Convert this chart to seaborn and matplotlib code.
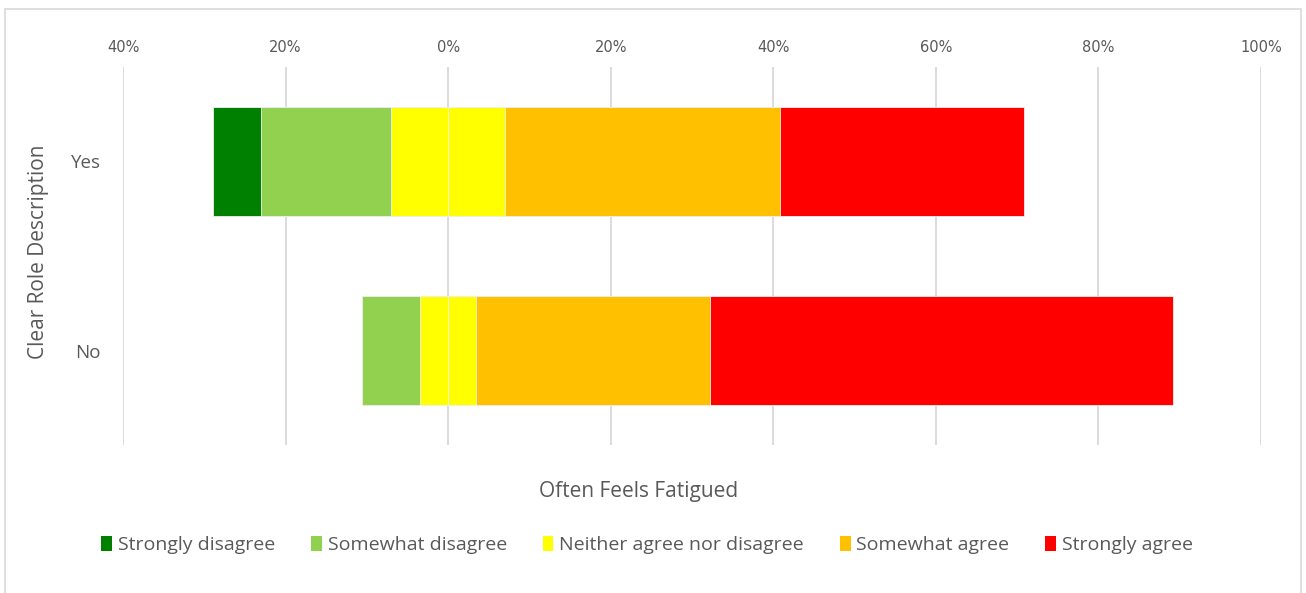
import matplotlib
matplotlib.use("Agg")
import matplotlib.pyplot as plt
from matplotlib.patches import Rectangle, Patch
import seaborn as sns
import pandas as pd

# Survey responses (% of respondents) by whether a clear role description exists
categories = ["Yes", "No"]
responses = ["Strongly disagree", "Somewhat disagree", "Neither agree nor disagree",
             "Somewhat agree", "Strongly agree"]
strongly_disagree = [5.9, 0.0]
somewhat_disagree = [16.0, 7.1]
neither = [14.1, 6.9]
somewhat_agree = [33.8, 28.8]
strongly_agree = [30.0, 56.9]

tick_values = [-40, -20, 0, 20, 40, 60, 80, 100]
tick_labels = ["40%", "20%", "0%", "20%", "40%", "60%", "80%", "100%"]
colors = ["#008000", "#92D050", "#FFFF00", "#FFC000", "#FF0000"]
text_color = "#595959"

sns.set_theme(style="white")
plt.rcParams["font.family"] = ["Open Sans", "DejaVu Sans"]

df = pd.DataFrame({
    "group": categories,
    "sd": strongly_disagree,
    "swd": somewhat_disagree,
    "n": neither,
    "swa": somewhat_agree,
    "sa": strongly_agree,
})
half = df["n"] / 2
# Diverging layout: neutral split around zero, disagreement to the left
df["sd_end"] = -(half + df["swd"] + df["sd"])
df["swd_end"] = -(half + df["swd"])
df["n_left"] = -half
df["n_right"] = half
df["swa_end"] = half + df["swa"]
df["sa_end"] = half + df["swa"] + df["sa"]

W, H = 1306, 593
fig = plt.figure(figsize=(W / 100, H / 100), dpi=100)
ax = fig.add_axes([123 / W, 1 - 445 / H, (1261 - 123) / W, (445 - 67) / H])

# Overlaid bars from zero, outermost first, so each segment shows its own span
layers = [("sa_end", colors[4]), ("swa_end", colors[3]), ("n_right", colors[2]),
          ("sd_end", colors[0]), ("swd_end", colors[1]), ("n_left", colors[2])]
for col, c in layers:
    sns.barplot(data=df, x=col, y="group", orient="h", color=c, saturation=1,
                width=0.58, edgecolor="#f0f0f0", linewidth=0.6, ax=ax)

ax.set_xlim(-40, 100)
ax.set_ylim(1.5, -0.5)
ax.set_xticks(tick_values)
ax.set_xticklabels(tick_labels, family="DejaVu Sans", fontsize=10.5, color=text_color)
ax.xaxis.tick_top()
ax.tick_params(axis="x", length=0, pad=8.5)
ax.tick_params(axis="y", length=0, pad=16, labelsize=13.5, labelcolor=text_color)
ax.grid(axis="x", color="#d9d9d9", linewidth=1.3)
ax.grid(axis="y", visible=False)
ax.set_axisbelow(True)
for s in ax.spines.values():
    s.set_visible(False)

ax.set_xlabel("Often Feels Fatigued", fontsize=15, color=text_color)
ax.xaxis.set_label_position("bottom")
ax.xaxis.set_label_coords((639 - 123) / (1261 - 123), (445 - 481) / (445 - 67))
ax.set_ylabel("Clear Role Description", fontsize=15, color=text_color)
ax.yaxis.set_label_coords((49 - 123) / (1261 - 123), 0.51)

handles = [Patch(facecolor=c, edgecolor="none") for c in colors]
fig.legend(handles, responses, loc="center", bbox_to_anchor=(0.4955, 1 - 545 / H),
           ncol=5, frameon=False, fontsize=14, handlelength=0.55, handleheight=0.8,
           handletextpad=0.3, columnspacing=1.85, labelcolor=text_color)

# Chart-area border
fig.patches.append(Rectangle((5 / W, -0.05), (1301 - 5) / W, 1 - 8.5 / H + 0.05,
                             transform=fig.transFigure, fill=False,
                             edgecolor="#d9d9d9", linewidth=1.2))

fig.savefig("out.png", dpi=100)
